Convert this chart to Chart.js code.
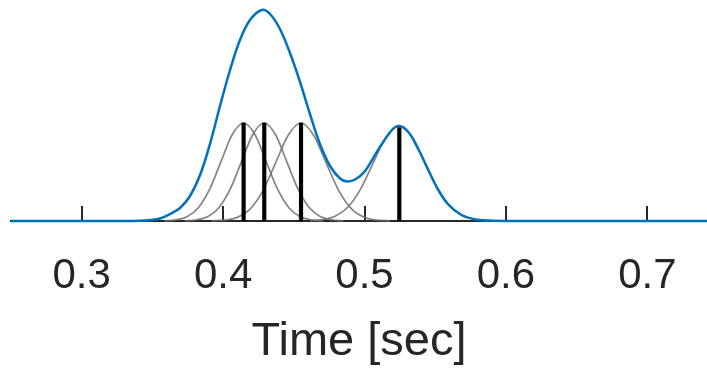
<!DOCTYPE html>
<html>
<head>
<meta charset="utf-8">
<script src="https://cdn.jsdelivr.net/npm/chart.js@4/dist/chart.umd.min.js"></script>
<style>
  html, body { margin: 0; padding: 0; background: #fff; overflow: hidden; }
  canvas { display: block; }
</style>
</head>
<body>
<canvas id="chart" width="707" height="368"></canvas>
<script>
const tickValues = [0.3, 0.4, 0.5, 0.6, 0.7];

// event times (black stems) and their heights
const peakTimes = [0.4145, 0.4291, 0.4551, 0.5246];
const peakHeights = [98, 98, 98, 95];

// summed curve (blue)
const sumTimes = [0.25, 0.33, 0.3412, 0.3483, 0.3554, 0.3624, 0.3695, 0.3766, 0.3837, 0.3907,
  0.3978, 0.4049, 0.4119, 0.419, 0.4273, 0.4332, 0.4402, 0.4473, 0.4544, 0.4614,
  0.4685, 0.4756, 0.4827, 0.4876, 0.4933, 0.5004, 0.51, 0.52, 0.5246, 0.531,
  0.538, 0.5451, 0.5522, 0.5593, 0.5687, 0.578, 0.588, 0.6, 0.75];
const sumValues = [0, 0, 0.3, 1, 2.5, 7, 13, 25, 46, 77,
  115, 151, 181, 201, 211, 207, 192, 168, 139, 107,
  77, 55, 42.5, 39.6, 41.5, 50, 72, 92, 95, 89,
  72, 51, 31, 16.5, 6, 1.8, 0.4, 0, 0];

// single kernels (grey)
const kernel1Times = [0.3585, 0.3665, 0.3745, 0.3825, 0.3905, 0.3985, 0.4065, 0.4145, 0.4225, 0.4305, 0.4385, 0.4465, 0.4545, 0.4625, 0.4705];
const kernel1Values = [0.2, 1.1, 4.3, 13.3, 31.8, 59.4, 86.5, 98, 86.5, 59.4, 31.8, 13.3, 4.3, 1.1, 0.2];

const kernel2Times = [0.373, 0.381, 0.389, 0.397, 0.405, 0.413, 0.421, 0.429, 0.437, 0.445, 0.453, 0.461, 0.469, 0.477, 0.485];
const kernel2Values = [0.2, 1.1, 4.3, 13.3, 31.8, 59.4, 86.5, 98, 86.5, 59.4, 31.8, 13.3, 4.3, 1.1, 0.2];

const kernel3Times = [0.392, 0.401, 0.41, 0.419, 0.428, 0.437, 0.446, 0.455, 0.464, 0.473, 0.482, 0.491, 0.5, 0.509, 0.518];
const kernel3Values = [0.15, 0.8, 3.6, 11.8, 29.8, 57.7, 85.8, 98, 85.8, 57.7, 29.8, 11.8, 3.6, 0.8, 0.15];

const kernel4Times = [0.4615, 0.4705, 0.4795, 0.4885, 0.4975, 0.5065, 0.5155, 0.5245, 0.5335, 0.5425, 0.5515, 0.5605, 0.5695, 0.5785, 0.5875];
const kernel4Values = [0.3, 1.3, 4.9, 14.3, 32.7, 59.2, 84.4, 95, 84.4, 59.2, 32.7, 14.3, 4.9, 1.3, 0.3];

const FONT = "'Liberation Sans', Arial, Helvetica, sans-serif";
const TEXT_COLOR = "#262626";

function points(xs, ys) {
  return xs.map((x, i) => ({ x, y: ys[i] }));
}

function greyKernel(xs, ys) {
  return {
    type: "line",
    data: points(xs, ys),
    borderColor: "rgba(110,110,110,0.85)",
    borderWidth: 1.7,
    pointRadius: 0,
    cubicInterpolationMode: "monotone",
    fill: false,
    clip: false,
    order: 2,
  };
}

// small tick marks pointing up into the plot, like the original
const innerTicks = {
  id: "innerTicks",
  beforeDatasetsDraw(chart) {
    const x = chart.scales.x;
    const ctx = chart.ctx;
    const base = chart.chartArea.bottom;
    ctx.save();
    ctx.strokeStyle = TEXT_COLOR;
    ctx.lineWidth = 2;
    tickValues.forEach((v) => {
      const px = Math.round(x.getPixelForValue(v));
      ctx.beginPath();
      ctx.moveTo(px, base);
      ctx.lineTo(px, base - 15);
      ctx.stroke();
    });
    ctx.restore();
  },
};

new Chart(document.getElementById("chart"), {
  type: "line",
  data: {
    datasets: [
      {
        type: "line",
        data: points(sumTimes, sumValues),
        borderColor: "#0072BD",
        borderWidth: 2.5,
        pointRadius: 0,
        tension: 0.35,
        fill: false,
        clip: false,
        order: 0,
      },
      {
        type: "bar",
        data: points(peakTimes, peakHeights),
        backgroundColor: "#000",
        barThickness: 3.5,
        grouped: false,
        order: 1,
      },
      greyKernel(kernel1Times, kernel1Values),
      greyKernel(kernel2Times, kernel2Values),
      greyKernel(kernel3Times, kernel3Values),
      greyKernel(kernel4Times, kernel4Values),
    ],
  },
  options: {
    responsive: false,
    animation: false,
    layout: { padding: { left: 11, right: 0, top: 0, bottom: 0 } },
    plugins: { legend: { display: false }, tooltip: { enabled: false } },
    scales: {
      x: {
        type: "linear",
        min: 0.25,
        max: 0.7422,
        offset: false,
        afterBuildTicks: (s) => {
          s.ticks = tickValues.map((v) => ({ value: v }));
        },
        afterFit: (s) => {
          s.height = 147;
        },
        grid: { display: false },
        border: { color: TEXT_COLOR, width: 2 },
        ticks: {
          color: TEXT_COLOR,
          font: { family: FONT, size: 42 },
          padding: 22,
          maxRotation: 0,
          autoSkip: false,
          callback: (v) => Number(v).toFixed(1),
        },
        title: {
          display: true,
          text: "Time [sec]",
          color: TEXT_COLOR,
          font: { family: FONT, size: 47, lineHeight: 1.1 },
          padding: { top: 0, bottom: 0 },
        },
      },
      y: { display: false, min: 0, max: 221 },
    },
  },
  plugins: [innerTicks],
});
</script>
</body>
</html>
